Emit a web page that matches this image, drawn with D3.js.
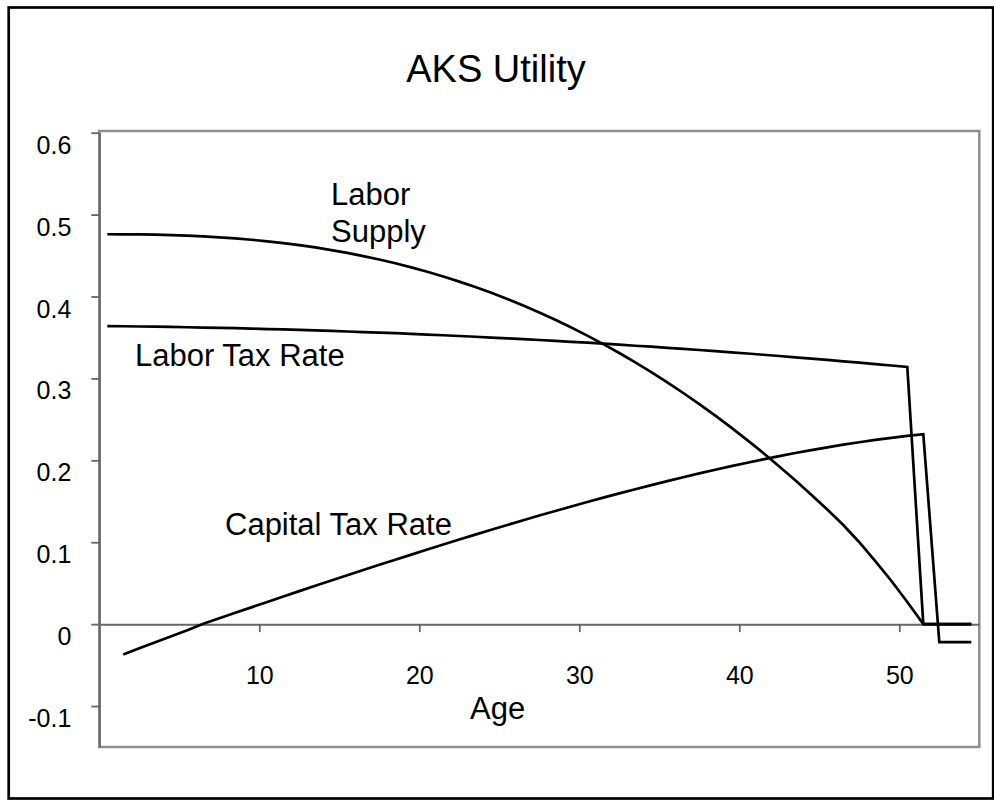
<!DOCTYPE html>
<html>
<head>
<meta charset="utf-8">
<script src="https://cdn.jsdelivr.net/npm/d3@7"></script>
<style>
  body { margin: 0; background: #fff; }
  svg text { font-family: "Liberation Sans", Arial, Helvetica, sans-serif; fill: #000; }
</style>
</head>
<body>
<div class="chart"></div>
<script>
// ages 1..55 (categories)
const ages = [1,2,3,4,5,6,7,8,9,10,11,12,13,14,15,16,17,18,19,20,21,22,23,24,25,26,27,28,29,30,
  31,32,33,34,35,36,37,38,39,40,41,42,43,44,45,46,47,48,49,50,51,52,53,54,55];

const laborSupply = [0.4760,0.4759,0.4758,0.4755,0.4750,0.4743,0.4734,0.4723,0.4709,0.4693,
  0.4674,0.4652,0.4627,0.4599,0.4567,0.4532,0.4494,0.4452,0.4406,0.4356,
  0.4302,0.4244,0.4182,0.4115,0.4045,0.3970,0.3890,0.3805,0.3716,0.3622,
  0.3523,0.3419,0.3310,0.3196,0.3077,0.2952,0.2822,0.2687,0.2546,0.2399,
  0.2247,0.2089,0.1925,0.1756,0.1580,0.1399,0.1210,0.1000,0.0770,0.0530,
  0.0270,0,0,0,0];

const laborTax = [0.3639,0.3637,0.3634,0.3632,0.3629,0.3625,0.3621,0.3617,0.3613,0.3608,
  0.3603,0.3598,0.3592,0.3586,0.3580,0.3573,0.3566,0.3559,0.3552,0.3544,
  0.3535,0.3527,0.3518,0.3509,0.3499,0.3490,0.3479,0.3469,0.3458,0.3447,
  0.3436,0.3424,0.3412,0.3399,0.3387,0.3374,0.3360,0.3347,0.3333,0.3318,
  0.3304,0.3289,0.3274,0.3258,0.3242,0.3226,0.3209,0.3193,0.3175,0.3158,
  0.3140,0,0,0,0];

const capitalTax = [null,-0.037,-0.0295,-0.022,-0.0148,-0.0075,0.0004,0.0071,0.0138,0.0205,
  0.0271,0.0337,0.0403,0.0468,0.0533,0.0597,0.0661,0.0724,0.0787,0.0849,
  0.0911,0.0972,0.1033,0.1093,0.1152,0.1211,0.1269,0.1326,0.1382,0.1437,
  0.1491,0.1544,0.1596,0.1647,0.1697,0.1746,0.1794,0.1840,0.1885,0.1929,
  0.1971,0.2012,0.2051,0.2089,0.2125,0.2159,0.2191,0.2221,0.2249,0.2275,
  0.2299,0.2320,-0.022,-0.022,-0.022];

const xTicks = [10, 20, 30, 40, 50];
const yTicks = [-0.1, 0, 0.1, 0.2, 0.3, 0.4, 0.5, 0.6];

const w = 994, h = 808;

/* scales */
const x = d3.scaleLinear().domain([0, 55]).range([99.3, 979.3]);
const y = d3.scaleLinear().domain([-0.15, 0.6]).range([747, 132.7]);

const svg = d3.select(".chart").append("svg")
  .attr("width", w)
  .attr("height", h);

/* outer frame */
svg.append("rect")
  .attr("x", 8.7).attr("y", 7.5)
  .attr("width", 984.5).attr("height", 791)
  .attr("fill", "none").attr("stroke", "#000").attr("stroke-width", 2.7);

/* title */
svg.append("text")
  .attr("x", 496).attr("y", 82)
  .attr("text-anchor", "middle")
  .style("font-size", "38px")
  .text("AKS Utility");

/* plot area border */
svg.append("rect")
  .attr("x", x(0)).attr("y", 131)
  .attr("width", x(55) - x(0)).attr("height", y(-0.15) - 131)
  .attr("fill", "none").attr("stroke", "#8e8e8e").attr("stroke-width", 2.5);

/* axes */
const yAxis = d3.axisLeft(y).tickValues(yTicks).tickSize(8).tickSizeOuter(0)
  .tickPadding(20).tickFormat(d => String(d));
const gy = svg.append("g")
  .attr("transform", "translate(" + x(0) + ",0)")
  .call(yAxis);
gy.selectAll("text").attr("dy", "0.82em").style("font-size", "25px");

const xAxis = d3.axisBottom(x).tickValues(xTicks).tickSize(8).tickSizeOuter(0)
  .tickPadding(34);
const gx = svg.append("g")
  .attr("transform", "translate(0," + y(0) + ")")
  .call(xAxis);
gx.selectAll("text").style("font-size", "25px");

[gx, gy].forEach(g => {
  g.select(".domain").attr("stroke", "#666").attr("stroke-width", 2);
  g.selectAll(".tick line").attr("stroke", "#666").attr("stroke-width", 1.8);
  g.selectAll("text").attr("font-family", null).attr("font-size", null);
});

/* lines - points sit in the middle of each age slot */
const line = d3.line()
  .defined(d => d[1] != null)
  .x(d => x(d[0] - 0.5))
  .y(d => y(d[1]));

[laborSupply, laborTax, capitalTax].forEach(series => {
  svg.append("path")
    .datum(ages.map((a, i) => [a, series[i]]))
    .attr("d", line)
    .attr("fill", "none")
    .attr("stroke", "#000")
    .attr("stroke-width", 2.7)
    .attr("stroke-linejoin", "miter");
});

/* series labels */
const labels = [
  { t: "Labor", x: 331, y: 205 },
  { t: "Supply", x: 331, y: 242 },
  { t: "Labor Tax Rate", x: 135, y: 366 },
  { t: "Capital Tax Rate", x: 225, y: 535 },
  { t: "Age", x: 470, y: 719 }
];
svg.selectAll("text.lbl")
  .data(labels)
  .enter()
  .append("text")
  .attr("class", "lbl")
  .attr("x", d => d.x)
  .attr("y", d => d.y)
  .style("font-size", "31px")
  .text(d => d.t);
</script>
</body>
</html>
